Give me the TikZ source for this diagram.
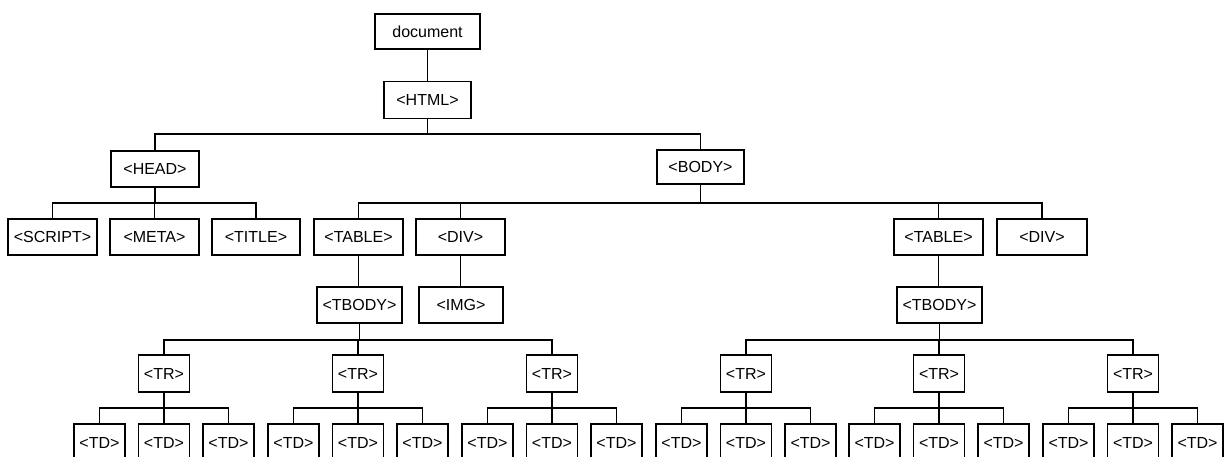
\documentclass[tikz,border=0pt]{standalone}
\usepackage{fontspec}
\setmainfont{Liberation Sans}
\usepackage{tikz}
\usetikzlibrary{calc}

\begin{document}
\begin{tikzpicture}[x=1pt,y=-1pt,line width=1.2pt,
		tag/.style={draw,rectangle,inner sep=0pt,minimum width=88pt,minimum height=36pt,
			font=\fontsize{16}{19}\selectfont},
		small tag/.style={tag,minimum width=51pt,minimum height=37pt}]
		\useasboundingbox (0,0) rectangle (1224,457);
		\clip (0,0) rectangle (1224,457);
		
		% levels of the tree
		\node[tag,minimum width=105pt,minimum height=35pt] (doc) at (427.5,31.5) {document};
		\node[tag,minimum width=87pt,minimum height=37pt] (html) at (427.5,100) {<HTML>};
		\node[tag] (head) at (155,169) {<HEAD>};
		\node[tag,minimum width=87pt,minimum height=34pt] (body) at (700.5,167) {<BODY>};
		
		\node[tag,minimum width=89pt] (script) at (52.5,237) {<SCRIPT>};
		\node[tag,minimum width=89pt] (meta) at (154.5,237) {<META>};
		\node[tag] (title) at (256,237) {<TITLE>};
		\node[tag,minimum width=89pt] (tablea) at (358.5,237) {<TABLE>};
		\node[tag,minimum width=89pt] (diva) at (460.5,237) {<DIV>};
		\node[tag,minimum width=89pt] (tableb) at (938.5,237) {<TABLE>};
		\node[tag,minimum width=90pt] (divb) at (1042,237) {<DIV>};
		
		\node[tag,minimum width=85pt] (tbodya) at (359.5,305) {<TBODY>};
		\node[tag,minimum width=84pt] (img) at (461,305) {<IMG>};
		\node[tag,minimum width=85pt] (tbodyb) at (939.5,305) {<TBODY>};
		
		\coordinate (bar0) at (0,134);
		\coordinate (bar1) at (0,203);
		\coordinate (bar2) at (0,340);
		\coordinate (bar3) at (0,408);
		
		\foreach \x [count=\i] in {164,358,552,746,939,1133}{
			\node[small tag] (tr\i) at (\x,373.5) {<TR>};
			\foreach \d [count=\j] in {-64.5,0,64.5}{
				\node[small tag] (td\i\j) at (\x+\d,442.5) {<TD>};
				\draw (tr\i.south) -- (tr\i.south |- bar3) -| (td\i\j.north);
			}
		}
		
		% connectors
		\draw (doc) -- (html);
		\foreach \c in {head,body}
			\draw (html.south) -- (html.south |- bar0) -| (\c.north);
		\foreach \c in {script,meta,title}
			\draw (head.south) -- (head.south |- bar1) -| (\c.north);
		\foreach \c in {tablea,diva,tableb,divb}
			\draw (body.south) -- (body.south |- bar1) -| (\c.north);
		\draw (tablea.south) -- (tablea.south |- tbodya.north);
		\draw (diva.south) -- (diva.south |- img.north);
		\draw (tableb.south) -- (tableb.south |- tbodyb.north);
		\foreach \c in {tr1,tr2,tr3}
			\draw (tbodya.south) -- (tbodya.south |- bar2) -| (\c.north);
		\foreach \c in {tr4,tr5,tr6}
			\draw (tbodyb.south) -- (tbodyb.south |- bar2) -| (\c.north);
	\end{tikzpicture}
\end{document}
